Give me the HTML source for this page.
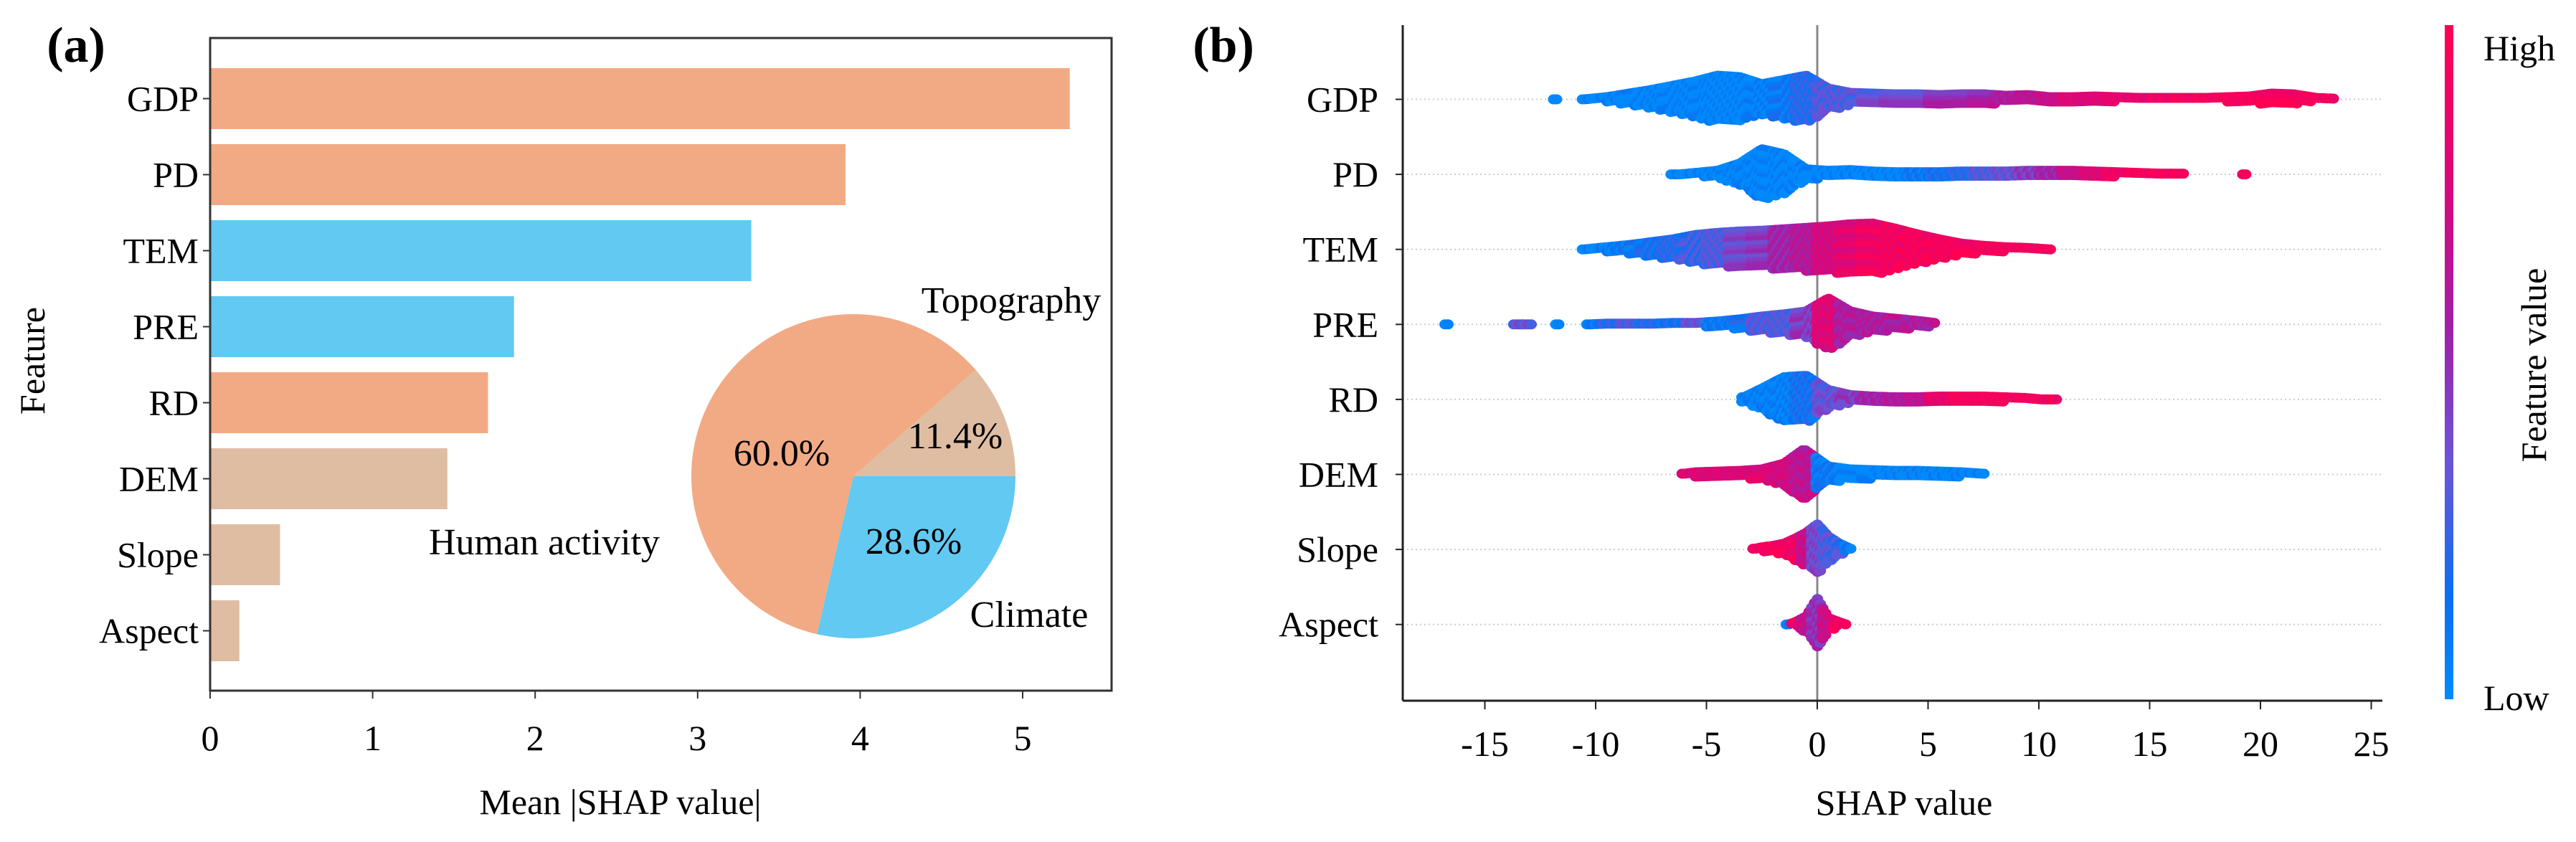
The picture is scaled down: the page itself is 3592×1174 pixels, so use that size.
<!DOCTYPE html>
<html><head><meta charset="utf-8"><style>
html,body{margin:0;padding:0;background:#fff;}
svg{display:block;font-family:"Liberation Serif","Times New Roman",serif;}
</style></head>
<body>
<svg id="fig" width="3592" height="1174" viewBox="0 0 3592 1174" xmlns="http://www.w3.org/2000/svg">
<defs>
<linearGradient id="cbar" x1="0" y1="1" x2="0" y2="0">
<stop offset="0" stop-color="#008bfb"/><stop offset="0.15" stop-color="#0a6ff2"/><stop offset="0.35" stop-color="#6a55d8"/><stop offset="0.55" stop-color="#a020a8"/><stop offset="0.75" stop-color="#d6087e"/><stop offset="1" stop-color="#ff0052"/>
</linearGradient>
</defs>
<g id="panelA"></g>
<g id="panelB"></g>
</svg>
<script>
// ---------- Panel (a) data ----------
const barFeatures = ["GDP","PD","TEM","PRE","RD","DEM","Slope","Aspect"];
const barValues = [5.29,3.91,3.33,1.87,1.71,1.46,0.43,0.18];
const barGroups = ["Human activity","Human activity","Climate","Climate","Human activity","Topography","Topography","Topography"];
const barTicks = [0,1,2,3,4,5];
const pieLabels = ["Topography","Human activity","Climate"];
const pieValues = [11.4,60.0,28.6];

// ---------- Panel (b) data ----------
const swarmFeatures = ["GDP","PD","TEM","PRE","RD","DEM","Slope","Aspect"];
const shapTicks = [-15,-10,-5,0,5,10,15,20,25];
const gdpX = [-11.8,-10.5,-9.5,-8.5,-7.5,-6.5,-5.5,-4.5,-3.5,-2.5,-1.5,-0.5,0.5,1.5,2.5,3.5,4.5,5.5,6.5,7.5,8.5,9.5,10.5,11.5,12.5,13.5,14.5,15.5,16.5,17.5,18.5,19.5,20.5,21.5,22.5,23.3];
const gdpH = [6,7,10,15,20,26,32,40,38,28,34,40,22,16,15,14,14,13,14,14,12,13,10,10,11,10,9,9,9,9,10,11,15,14,9,8];
const gdpC = [0.02,0.02,0.02,0.02,0.02,0.02,0.02,0.02,0.02,0.05,0.1,0.2,0.3,0.3,0.35,0.4,0.4,0.5,0.5,0.55,0.6,0.65,0.7,0.8,0.8,0.85,0.85,0.9,0.95,0.95,0.95,0.95,0.95,0.95,0.95,0.95];
const pdX = [-6.5,-5.5,-4.5,-3.5,-2.5,-1.5,-0.5,0.5,1.5,2.5,3.5,4.5,5.5,6.5,7.5,8.5,9.5,10.5,11.5,12.5,13.5,14.5,15.5,16.5,19.3];
const pdH = [6,9,12,22,42,35,14,12,13,11,10,10,10,11,11,11,12,12,12,11,10,9,8,8,6];
const pdC = [0.02,0.02,0.02,0.02,0.02,0.02,0.02,0.02,0.02,0.02,0.02,0.1,0.15,0.2,0.3,0.35,0.45,0.55,0.7,0.8,0.9,0.95,0.95,0.95,0.95];
const temX = [-10.5,-9.5,-8.5,-7.5,-6.5,-5.5,-4.5,-3.5,-2.5,-1.5,-0.5,0.5,1.5,2.5,3.5,4.5,5.5,6.5,7.5,8.5,9.5,10.5];
const temH = [7,10,13,17,21,27,30,32,33,35,37,39,42,43,36,28,21,15,12,10,9,7];
const temC = [0.02,0.05,0.1,0.15,0.2,0.25,0.3,0.4,0.45,0.55,0.62,0.75,0.82,0.9,0.92,0.95,0.95,0.95,0.95,0.95,0.95,0.95];
const preX = [-16.7,-13.6,-13.0,-11.7,-10.3,-9.5,-8.5,-7.5,-6.5,-5.5,-4.5,-3.5,-2.5,-1.5,-0.5,0.5,1.5,2.5,3.5,4.5,5.3];
const preH = [6,6,6,6,7,8,8,8,9,9,11,14,18,21,25,43,25,18,15,12,9];
const preC = [0.05,0.35,0.35,0.05,0.1,0.2,0.3,0.2,0.15,0.35,0.1,0.15,0.3,0.3,0.45,0.8,0.6,0.6,0.6,0.6,0.6];
const rdX = [-3.3,-2.5,-1.5,-0.5,0.5,1.5,2.5,3.5,4.5,5.5,6.5,7.5,8.5,9.4,10.1,10.7];
const rdH = [10,22,38,40,20,13,11,10,10,11,11,11,10,9,7,6];
const rdC = [0.05,0.05,0.05,0.15,0.35,0.45,0.55,0.6,0.65,0.85,0.95,0.95,0.95,0.95,0.95,0.95];
const demX = [-6.0,-5.5,-4.5,-3.5,-2.5,-1.5,-0.6,0.5,1.5,2.5,3.5,4.5,5.5,6.5,7.5];
const demH = [8,10,11,12,14,22,42,18,14,13,12,12,11,10,8];
const demC = [0.85,0.8,0.8,0.8,0.8,0.75,0.65,0.1,0.02,0.02,0.02,0.02,0.02,0.02,0.02];
const slopeX = [-2.8,-2.5,-2.0,-1.5,-1.0,-0.5,0.0,0.5,1.0,1.5];
const slopeH = [8,10,12,15,22,30,42,25,15,8];
const slopeC = [0.95,0.95,0.95,0.95,0.9,0.7,0.4,0.3,0.25,0.1];
const aspectX = [-1.3,-1.0,-0.5,0.0,0.5,1.0,1.3];
const aspectH = [7,10,18,43,16,10,7];
const aspectC = [0.1,0.9,0.7,0.5,0.7,0.9,0.95];

const NS = "http://www.w3.org/2000/svg";
function el(tag, attrs, parent, txt){
  const e = document.createElementNS(NS, tag);
  for (const k in attrs) e.setAttribute(k, attrs[k]);
  if (txt !== undefined) e.textContent = txt;
  parent.appendChild(e);
  return e;
}
const groupColor = {"Human activity":"#f2aa84","Climate":"#61c9f2","Topography":"#dfbda3"};

// ---------- Panel (a) ----------
const A = document.getElementById("panelA");
const ax = {l:293, r:1550, t:53, b:963};
const xA = v => ax.l + v*226.6;
const yA = i => 137.5 + i*106;
let t;
t = el("text",{x:106,y:86,"font-size":70,"font-weight":"bold","text-anchor":"middle"},A,"(a)");
 
barFeatures.forEach((f,i)=>{
  const r = el("rect",{x:xA(0),y:yA(i)-42.5,width:xA(barValues[i])-xA(0),height:85,fill:groupColor[barGroups[i]]},A);
  
  
  const tk = el("line",{x1:ax.l-10,x2:ax.l,y1:yA(i),y2:yA(i),stroke:"#333","stroke-width":2},A);
   
  const lb = el("text",{x:ax.l-16,y:yA(i)+17,"font-size":50,"text-anchor":"end"},A,f);
   
});
const box = el("rect",{x:ax.l,y:ax.t,width:ax.r-ax.l,height:ax.b-ax.t,fill:"none",stroke:"#333","stroke-width":3},A);
 
barTicks.forEach(v=>{
  const tk = el("line",{x1:xA(v),x2:xA(v),y1:ax.b,y2:ax.b+11,stroke:"#333","stroke-width":2},A);
   
  const lb = el("text",{x:xA(v),y:1046,"font-size":50,"text-anchor":"middle"},A,String(v));
   
});
t = el("text",{x:865,y:1135,"font-size":50,"text-anchor":"middle"},A,"Mean |SHAP value|");
 
t = el("text",{x:0,y:0,"font-size":50,"text-anchor":"middle",transform:"translate(62,503) rotate(-90)"},A,"Feature");
 
// pie
const pc = {x:1190,y:664,r:226};
const pieTotal = pieValues.reduce((a,b)=>a+b,0);
let ang = 0;
const pieLabelPos = [[1410,436],[759,773],[1435,874]];
const piePctPos = [[1332,625],[1090,649],[1274,772]];
pieValues.forEach((v,i)=>{
  const a0 = ang, a1 = ang + v/pieTotal*2*Math.PI; ang = a1;
  const p0 = [pc.x+pc.r*Math.cos(a0), pc.y-pc.r*Math.sin(a0)];
  const p1 = [pc.x+pc.r*Math.cos(a1), pc.y-pc.r*Math.sin(a1)];
  const large = (a1-a0) > Math.PI ? 1 : 0;
  const s = el("path",{d:`M${pc.x},${pc.y} L${p0[0]},${p0[1]} A${pc.r},${pc.r} 0 ${large} 0 ${p1[0]},${p1[1]} Z`,fill:groupColor[pieLabels[i]]},A);
  
  
  const lb = el("text",{x:pieLabelPos[i][0],y:pieLabelPos[i][1],"font-size":52,"text-anchor":"middle"},A,pieLabels[i]);
   
  const pl = el("text",{x:piePctPos[i][0],y:piePctPos[i][1],"font-size":52,"text-anchor":"middle"},A,v.toFixed(1)+"%");
   
});

// ---------- Panel (b) ----------
const B = document.getElementById("panelB");
const bx = {l:1956, r:3322, t:35, b:977};
const xB = v => 2534 + v*30.9;
const yB = i => 138.5 + i*104.6;
t = el("text",{x:1706,y:86,"font-size":70,"font-weight":"bold","text-anchor":"middle"},B,"(b)");
 
const stops = [[0,[0,139,251]],[0.15,[10,111,242]],[0.35,[106,85,216]],[0.55,[160,32,168]],[0.75,[214,8,126]],[1,[255,0,82]]];
function cmap(c){
  c = Math.max(0,Math.min(1,c));
  for (let k=1;k<stops.length;k++){
    if (c<=stops[k][0]){
      const f=(c-stops[k-1][0])/(stops[k][0]-stops[k-1][0]);
      const a=stops[k-1][1], b=stops[k][1];
      return `rgb(${Math.round(a[0]+(b[0]-a[0])*f)},${Math.round(a[1]+(b[1]-a[1])*f)},${Math.round(a[2]+(b[2]-a[2])*f)})`;
    }
  }
  return "rgb(255,0,82)";
}
swarmFeatures.forEach((f,i)=>{
  const g = el("line",{x1:bx.l,x2:bx.r,y1:yB(i),y2:yB(i),stroke:"#ccc","stroke-width":2,"stroke-dasharray":"2,4"},B);
   
  const tk = el("line",{x1:bx.l-10,x2:bx.l,y1:yB(i),y2:yB(i),stroke:"#222","stroke-width":2},B);
   
  const lb = el("text",{x:1922,y:yB(i)+17,"font-size":50,"text-anchor":"end"},B,f);
   
});
const zl = el("line",{x1:xB(0),x2:xB(0),y1:bx.t,y2:bx.b,stroke:"#888","stroke-width":3},B);
 
const series = [[gdpX,gdpH,gdpC],[pdX,pdH,pdC],[temX,temH,temC],[preX,preH,preC],[rdX,rdH,rdC],[demX,demH,demC],[slopeX,slopeH,slopeC],[aspectX,aspectH,aspectC]];
series.forEach((s,i)=>{
  const [xs,hs,cs] = s;
  const grp = el("g",{},B);
  
  
  const cy = yB(i);
  for (let k=0;k<xs.length;k++){
    if (hs[k] <= 0) continue;
    const px = xB(xs[k]);
    const gl = k>0 ? px - xB(xs[k-1]) : 0;
    const gr = k<xs.length-1 ? xB(xs[k+1]) - px : 0;
    const lOk = k>0 && gl <= 36, rOk = k<xs.length-1 && gr <= 36;
    const wl = lOk ? gl/2 : 3, wr = rOk ? gr/2 : 3;
    let n=0;
    for (let ox=-wl; ox<wr; ox+=4){
      let h = hs[k];
      if (ox<0 && lOk) h = hs[k] + (hs[k-1]-hs[k])*(-ox/gl);
      if (ox>0 && rOk) h = hs[k] + (hs[k+1]-hs[k])*(ox/gr);
      const hMax = Math.max(0, h-7);
      for (let oy=-hMax; oy<=hMax+0.01; oy+=6){
        const jitter = ((n%3)-1)*0.08;
        el("ellipse",{cx:(px+ox).toFixed(1),cy:(cy+oy).toFixed(1),rx:8,ry:7,fill:cmap(cs[k]+jitter)},grp);
        n++;
      }
    }
  }
});
const sp1 = el("line",{x1:bx.l,x2:bx.l,y1:bx.t,y2:bx.b,stroke:"#222","stroke-width":3},B);
 
const sp2 = el("line",{x1:bx.l,x2:bx.r,y1:bx.b,y2:bx.b,stroke:"#222","stroke-width":3},B);
 
shapTicks.forEach(v=>{
  const tk = el("line",{x1:xB(v),x2:xB(v),y1:bx.b,y2:bx.b+12,stroke:"#222","stroke-width":2},B);
   
  const lb = el("text",{x:xB(v),y:1054,"font-size":50,"text-anchor":"middle"},B,String(v));
   
});
t = el("text",{x:2655,y:1136,"font-size":50,"text-anchor":"middle"},B,"SHAP value");
 
const cb = el("rect",{x:3409,y:35,width:12,height:940,fill:"url(#cbar)"},B);
 
t = el("text",{x:3463,y:84,"font-size":50},B,"High");
 
t = el("text",{x:3463,y:990,"font-size":50},B,"Low");
 
t = el("text",{x:0,y:0,"font-size":50,"text-anchor":"middle",transform:"translate(3550,509) rotate(-90)"},B,"Feature value");
 
</script>
</body></html>
